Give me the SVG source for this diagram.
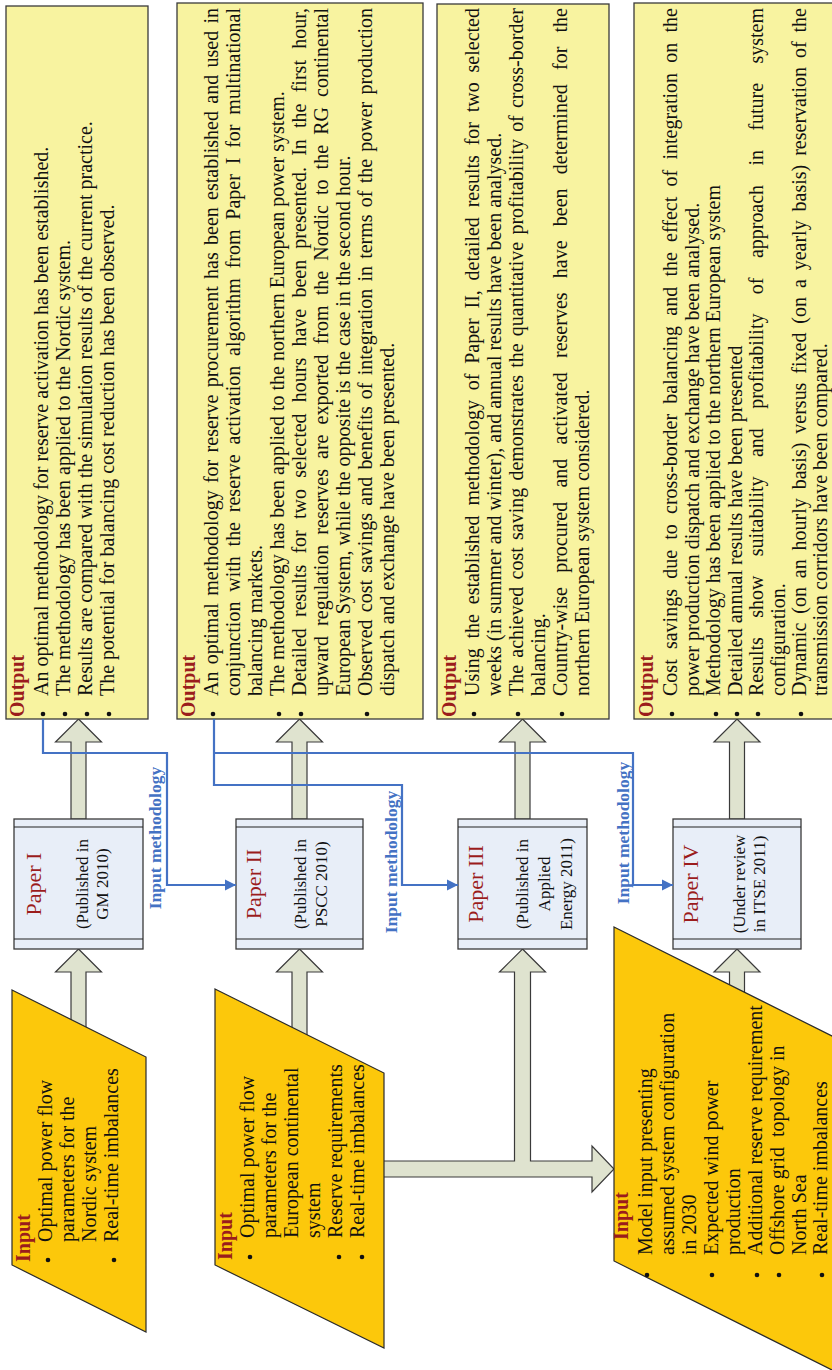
<svg xmlns="http://www.w3.org/2000/svg" width="832" height="1370" viewBox="0 0 832 1370">
<style>
.t{font-family:"Liberation Serif","Times New Roman",serif;font-size:20px;fill:#111}
.h{font-family:"Liberation Serif","Times New Roman",serif;font-size:20px;font-weight:bold;fill:#9B1C1C}
.pt{font-family:"Liberation Serif","Times New Roman",serif;font-size:22px;fill:#9B1C1C;text-anchor:middle}
.ps{font-family:"Liberation Serif","Times New Roman",serif;font-size:17px;fill:#111;text-anchor:middle}
.lb{font-family:"Liberation Serif","Times New Roman",serif;font-size:17.5px;font-weight:bold;fill:#4472C4;text-anchor:middle}
.ob{fill:#F8F3A0;stroke:#3a3a3a;stroke-width:1.3}
.pb{fill:#E8EEF8;stroke:#3a3a3a;stroke-width:1.3}
.ib{fill:#FCC80B;stroke:#2a2a2a;stroke-width:1.2}
.ar{fill:#DFE3CF;stroke:#3a3a3a;stroke-width:1.2}
.bl{fill:none;stroke:#4472C4;stroke-width:2.2}
.dot{fill:#111}
</style>
<defs>
<marker id="ah" markerUnits="userSpaceOnUse" markerWidth="12" markerHeight="12" refX="11" refY="6" orient="auto">
<path d="M0,0.5 L11,6 L0,11.5 Z" fill="#4472C4"/>
</marker>
</defs>

<!-- thick arrows -->
<g id="thick-arrows">
<path class="ar" d="M78.5,719 L101.5,742 L86,742 L86,819 L71,819 L71,742 L55.5,742 Z"/>
<path class="ar" d="M299.5,719 L322.5,742 L307,742 L307,819 L292,819 L292,742 L276.5,742 Z"/>
<path class="ar" d="M522.5,719 L545.5,742 L530,742 L530,819 L515,819 L515,742 L499.5,742 Z"/>
<path class="ar" d="M737,719 L760,742 L744.5,742 L744.5,819 L729.5,819 L729.5,742 L714,742 Z"/>
<path class="ar" d="M78.5,949 L101.5,972 L86,972 L86,1040 L71,1040 L71,972 L55.5,972 Z"/>
<path class="ar" d="M299.5,949 L322.5,972 L307,972 L307,1045 L292,1045 L292,972 L276.5,972 Z"/>
<path class="ar" d="M737,949 L760,972 L744.5,972 L744.5,1000 L729.5,1000 L729.5,972 L714,972 Z"/>
<path class="ar" d="M522.5,949 L545.5,972 L530.5,972 L530.5,1161 L592,1161 L592,1146 L614,1169 L592,1192 L592,1177 L370,1177 L370,1161 L514.5,1161 L514.5,972 L499.5,972 Z"/>
</g>

<!-- Output 1 -->
<g id="output1">
<rect class="ob" x="6" y="6" width="142" height="713"/>
<g transform="matrix(0 -1 1 0 0 1370)">
<text class="h" x="653" y="24">Output</text>
<text class="t" x="674" y="48">An optimal methodology for reserve activation has been established.</text>
<text class="t" x="674" y="70">The methodology has been applied to the Nordic system.</text>
<text class="t" x="674" y="92">Results are compared with the simulation results of the current practice.</text>
<text class="t" x="674" y="114">The potential for balancing cost reduction has been observed.</text>
</g>
<circle class="dot" cx="43" cy="714" r="2.3"/><circle class="dot" cx="65" cy="714" r="2.3"/><circle class="dot" cx="87" cy="714" r="2.3"/><circle class="dot" cx="109" cy="714" r="2.3"/>
</g>

<!-- Output 2 -->
<g id="output2">
<rect class="ob" x="177" y="3" width="246" height="716"/>
<g transform="matrix(0 -1 1 0 0 1370)">
<text class="h" x="653" y="195">Output</text>
<text class="t" x="674" y="218" style="word-spacing:2.3px" textLength="688" lengthAdjust="spacing">An optimal methodology for reserve procurement has been established and used in</text>
<text class="t" x="674" y="240" style="word-spacing:4.8px" textLength="688" lengthAdjust="spacing">conjunction with the reserve activation algorithm from Paper I for multinational</text>
<text class="t" x="674" y="262">balancing markets.</text>
<text class="t" x="674" y="284">The methodology has been applied to the northern European power system.</text>
<text class="t" x="674" y="306" style="word-spacing:6.2px" textLength="688" lengthAdjust="spacing">Detailed results for two selected hours have been presented. In the first hour,</text>
<text class="t" x="674" y="328" style="word-spacing:5.1px" textLength="688" lengthAdjust="spacing">upward regulation reserves are exported from the Nordic to the RG continental</text>
<text class="t" x="674" y="350">European System, while the opposite is the case in the second hour.</text>
<text class="t" x="674" y="372" style="word-spacing:2.2px" textLength="688" lengthAdjust="spacing">Observed cost savings and benefits of integration in terms of the power production</text>
<text class="t" x="674" y="394">dispatch and exchange have been presented.</text>
</g>
<circle class="dot" cx="213" cy="714" r="2.3"/><circle class="dot" cx="279" cy="714" r="2.3"/><circle class="dot" cx="301" cy="714" r="2.3"/><circle class="dot" cx="367" cy="714" r="2.3"/>
</g>

<!-- Output 3 -->
<g id="output3">
<rect class="ob" x="437" y="4" width="172" height="715"/>
<g transform="matrix(0 -1 1 0 0 1370)">
<text class="h" x="653" y="456">Output</text>
<text class="t" x="674" y="479" style="word-spacing:4.8px" textLength="688" lengthAdjust="spacing">Using the established methodology of Paper II, detailed results for two selected</text>
<text class="t" x="674" y="501">weeks (in summer and winter), and annual results have been analysed.</text>
<text class="t" x="674" y="523" style="word-spacing:2.2px" textLength="688" lengthAdjust="spacing">The achieved cost saving demonstrates the quantitative profitability of cross-border</text>
<text class="t" x="674" y="545">balancing.</text>
<text class="t" x="674" y="567" style="word-spacing:9.2px" textLength="688" lengthAdjust="spacing">Country-wise procured and activated reserves have been determined for the</text>
<text class="t" x="674" y="589">northern European system considered.</text>
</g>
<circle class="dot" cx="474" cy="714" r="2.3"/><circle class="dot" cx="518" cy="714" r="2.3"/><circle class="dot" cx="562" cy="714" r="2.3"/>
</g>

<!-- Output 4 -->
<g id="output4">
<rect class="ob" x="634" y="3" width="210" height="716"/>
<g transform="matrix(0 -1 1 0 0 1370)">
<text class="h" x="653" y="653">Output</text>
<text class="t" x="674" y="677" style="word-spacing:5.2px" textLength="688" lengthAdjust="spacing">Cost savings due to cross-border balancing and the effect of integration on the</text>
<text class="t" x="674" y="699">power production dispatch and exchange have been analysed.</text>
<text class="t" x="674" y="720">Methodology has been applied to the northern European system</text>
<text class="t" x="674" y="742">Detailed annual results have been presented</text>
<text class="t" x="674" y="763" style="word-spacing:14.5px" textLength="688" lengthAdjust="spacing">Results show suitability and profitability of approach in future system</text>
<text class="t" x="674" y="785">configuration.</text>
<text class="t" x="674" y="806" style="word-spacing:3.9px" textLength="688" lengthAdjust="spacing">Dynamic (on an hourly basis) versus fixed (on a yearly basis) reservation of the</text>
<text class="t" x="674" y="827">transmission corridors have been compared.</text>
</g>
<circle class="dot" cx="672" cy="714" r="2.3"/><circle class="dot" cx="716" cy="714" r="2.3"/><circle class="dot" cx="737" cy="714" r="2.3"/><circle class="dot" cx="758" cy="714" r="2.3"/><circle class="dot" cx="801" cy="714" r="2.3"/>
</g>

<!-- Papers -->
<g id="paper1">
<rect class="pb" x="14" y="819" width="129" height="130"/>
<path d="M14,827 H143 M14,939 H143" stroke="#222" stroke-width="1.2"/>
<g transform="matrix(0 -1 1 0 0 1370)">
<text class="pt" x="486" y="41">Paper I</text>
<text class="ps" x="486" y="88">(Published in</text>
<text class="ps" x="486" y="108">GM 2010)</text>
</g>
</g>
<g id="paper2">
<rect class="pb" x="236" y="819" width="127" height="130"/>
<path d="M236,827 H363 M236,939 H363" stroke="#222" stroke-width="1.2"/>
<g transform="matrix(0 -1 1 0 0 1370)">
<text class="pt" x="486" y="261">Paper II</text>
<text class="ps" x="486" y="306">(Published in</text>
<text class="ps" x="486" y="327">PSCC 2010)</text>
</g>
</g>
<g id="paper3">
<rect class="pb" x="458" y="819" width="129" height="130"/>
<path d="M458,827 H587 M458,939 H587" stroke="#222" stroke-width="1.2"/>
<g transform="matrix(0 -1 1 0 0 1370)">
<text class="pt" x="486" y="483">Paper III</text>
<text class="ps" x="486" y="528">(Published in</text>
<text class="ps" x="486" y="550">Applied</text>
<text class="ps" x="486" y="572">Energy 2011)</text>
</g>
</g>
<g id="paper4">
<rect class="pb" x="673" y="819" width="128" height="130"/>
<path d="M673,827 H801 M673,939 H801" stroke="#222" stroke-width="1.2"/>
<g transform="matrix(0 -1 1 0 0 1370)">
<text class="pt" x="486" y="698">Paper IV</text>
<text class="ps" x="486" y="745">(Under review</text>
<text class="ps" x="486" y="765">in ITSE 2011)</text>
</g>
</g>

<!-- Inputs -->
<g id="input1">
<path class="ib" d="M12,990 L146,1057 L146,1332 L12,1265 Z"/>
<g transform="matrix(0 -1 1 0 0 1370)">
<text class="h" x="108" y="30">Input</text>
<text class="t" x="128" y="52">Optimal power flow</text>
<text class="t" x="128" y="74">parameters for the</text>
<text class="t" x="128" y="96">Nordic system</text>
<text class="t" x="128" y="118">Real-time imbalances</text>
</g>
<circle class="dot" cx="48" cy="1260" r="2.3"/><circle class="dot" cx="114" cy="1260" r="2.3"/>
</g>
<g id="input2">
<path class="ib" d="M215,989 L384,1073 L384,1348 L215,1265 Z"/>
<g transform="matrix(0 -1 1 0 0 1370)">
<text class="h" x="110" y="232">Input</text>
<text class="t" x="132" y="254">Optimal power flow</text>
<text class="t" x="132" y="276">parameters for the</text>
<text class="t" x="132" y="298">European continental</text>
<text class="t" x="132" y="320">system</text>
<text class="t" x="132" y="342">Reserve requirements</text>
<text class="t" x="132" y="364">Real-time imbalances</text>
</g>
<circle class="dot" cx="250" cy="1257" r="2.3"/><circle class="dot" cx="339" cy="1257" r="2.3"/><circle class="dot" cx="362" cy="1257" r="2.3"/>
</g>
<g id="input3">
<path class="ib" d="M614,927 L900,1070 L900,1404 L614,1261 Z"/>
<g transform="matrix(0 -1 1 0 0 1370)">
<text class="h" x="130" y="628">Input</text>
<text class="t" x="115" y="652">Model input presenting</text>
<text class="t" x="115" y="674">assumed system configuration</text>
<text class="t" x="115" y="696">in 2030</text>
<text class="t" x="115" y="718">Expected wind power</text>
<text class="t" x="115" y="740">production</text>
<text class="t" x="115" y="762">Additional reserve requirement</text>
<text class="t" x="115" y="784" style="white-space:pre">Offshore grid  topology in</text>
<text class="t" x="115" y="806">North Sea</text>
<text class="t" x="115" y="827">Real-time imbalances</text>
</g>
<circle class="dot" cx="647" cy="1275" r="2.3"/><circle class="dot" cx="712" cy="1275" r="2.3"/><circle class="dot" cx="757" cy="1275" r="2.3"/><circle class="dot" cx="779" cy="1275" r="2.3"/><circle class="dot" cx="822" cy="1275" r="2.3"/>
</g>

<!-- connectors -->
<g id="connectors">
<path class="bl" d="M43,719 V753 H167 V885 H236" marker-end="url(#ah)"/>
<path class="bl" d="M214,719 V785 H402 V885 H458" marker-end="url(#ah)"/>
<path class="bl" d="M214,753 H633 V885 H673" marker-end="url(#ah)"/>
<g transform="matrix(0 -1 1 0 0 1370)">
<text class="lb" x="532" y="161">Input methodology</text>
<text class="lb" x="508" y="397">Input methodology</text>
<text class="lb" x="537" y="629">Input methodology</text>
</g>
</g>
</svg>
